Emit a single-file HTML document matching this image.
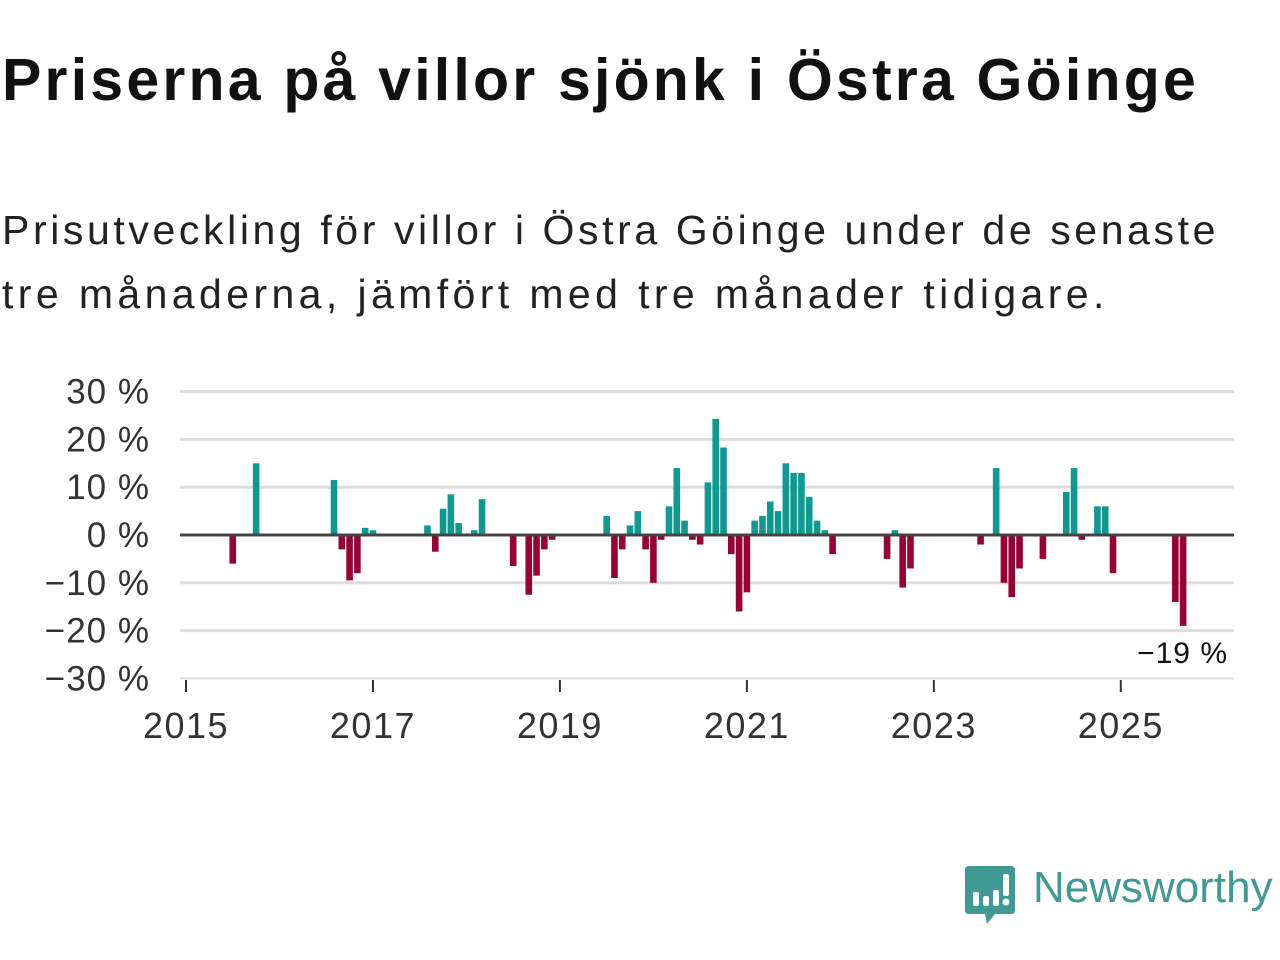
<!DOCTYPE html>
<html><head><meta charset="utf-8">
<style>
body{margin:0;width:1280px;height:960px;background:#fff;overflow:hidden;font-family:"Liberation Sans","DejaVu Sans",sans-serif;color:#111}
#title{position:absolute;left:2px;top:46px;font-size:59px;font-weight:bold;margin:0;color:#111;letter-spacing:3.2px;white-space:nowrap}
#subtitle{position:absolute;left:2px;top:198px;font-size:41px;line-height:64px;margin:0;color:#222;letter-spacing:3.6px;white-space:nowrap}
#l2{letter-spacing:4.4px}
svg{position:absolute;left:0;top:0}
</style></head><body>
<h1 id="title">Priserna på villor sjönk i Östra Göinge</h1>
<p id="subtitle">Prisutveckling för villor i Östra Göinge under de senaste<br><span id="l2">tre månaderna, jämfört med tre månader tidigare.</span></p>
<svg id="chart" width="1280" height="960"></svg>
<script>
const months=[6,9,19,20,21,22,23,24,31,32,33,34,35,37,38,42,44,45,46,47,54,55,56,57,58,59,60,61,62,63,64,65,66,67,68,69,70,71,72,73,74,75,76,77,78,79,80,81,82,83,90,91,92,93,102,104,105,106,107,110,113,114,115,117,118,119,127,128];
const values=[-6,15,11.5,-3,-9.5,-8,1.5,1,2,-3.5,5.5,8.5,2.5,1,7.5,-6.5,-12.5,-8.5,-3,-1,4,-9,-3,2,5,-3,-10,-1,6,14,3,-1,-2,11,24.3,18.3,-4,-16,-12,3,4,7,5,15,13,13,8,3,1,-4,-5,1,-11,-7,-2,14,-10,-13,-7,-5,9,14,-1,6,6,-8,-14,-19];
const yTicks=[30,20,10,0,-10,-20,-30];
const yLabels=["30 %","20 %","10 %","0 %","−10 %","−20 %","−30 %"];
const xYears=[2015,2017,2019,2021,2023,2025];
const NS="http://www.w3.org/2000/svg";
const svg=document.getElementById('chart');
const x0=186,pxPerMonth=7.79;
function xScale(m){return x0+m*pxPerMonth;}
function yScale(v){return 535-v*4.78;}
function mk(t,a){const e=document.createElementNS(NS,t);for(const k in a)e.setAttribute(k,a[k]);svg.appendChild(e);return e;}
yTicks.forEach((t,i)=>{
  if(t!==0&&t!==-30){const l=mk('line',{x1:180,x2:1234,y1:yScale(t),y2:yScale(t),stroke:'#ddd','stroke-width':3});
  
  }
  const tx=mk('text',{x:150,y:yScale(t)+12,'text-anchor':'end','font-size':35,'letter-spacing':1,fill:'#333'});
  tx.textContent=yLabels[i];
  
  
});
const bl=mk('line',{x1:180,x2:1234,y1:yScale(-30),y2:yScale(-30),stroke:'#ddd','stroke-width':2});


xYears.forEach(y=>{
  const x=xScale((y-2015)*12);
  const t=mk('line',{x1:x,x2:x,y1:680,y2:692,stroke:'#333','stroke-width':2});
  
  
  const tx=mk('text',{x:x,y:738,'text-anchor':'middle','font-size':36,'letter-spacing':1.5,fill:'#333'});
  tx.textContent=y;
  
  
});
months.forEach((m,i)=>{
  const v=values[i],x=xScale(m);
  const top=Math.min(yScale(v),yScale(0)),h=Math.abs(yScale(v)-yScale(0));
  const r=mk('rect',{x:x-3.3,y:top,width:6.6,height:h,fill:v>=0?'#0e9a91':'#990033'});
  
  
});
const zl=mk('line',{x1:180,x2:1234,y1:yScale(0),y2:yScale(0),stroke:'#444','stroke-width':3});


const lastI=values.length-1;
const lab=mk('text',{x:1228,y:663,'text-anchor':'end','font-size':30,'letter-spacing':1,fill:'#111'});
lab.textContent=String(values[lastI]).replace('-','−')+' %';


</script>
<div style="position:absolute;left:965px;top:866px;">
<svg width="52" height="60" viewBox="0 0 52 60" style="position:absolute;left:0;top:0">
<path d="M4 0H46Q50 0 50 4V44Q50 48 46 48H30L22 58L20 48H4Q0 48 0 44V4Q0 0 4 0Z" fill="#3f9a93"/>
<rect x="8" y="26" width="6" height="14" rx="2" fill="#fff"/>
<rect x="18" y="30" width="6" height="10" rx="2" fill="#fff"/>
<rect x="28" y="24" width="6" height="16" rx="2" fill="#fff"/>
<rect x="38" y="8" width="6" height="22" rx="2" fill="#fff"/>
<circle cx="41" cy="36" r="3.5" fill="#fff"/>
</svg>
<span style="position:absolute;left:68px;top:-3px;font-size:44px;color:#3f9a93;white-space:nowrap">Newsworthy</span>
</div>
</body></html>
